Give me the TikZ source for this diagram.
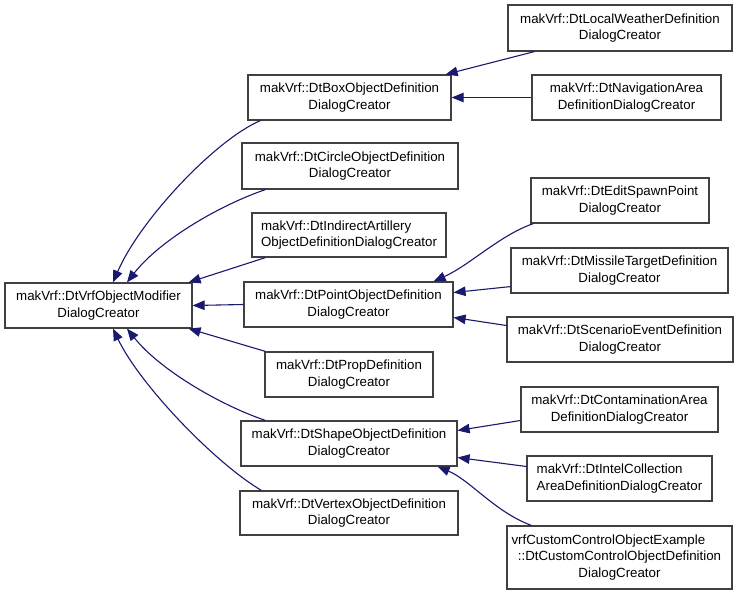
\documentclass[tikz,border=0pt]{standalone}
\usepackage{fontspec}
\setmainfont{Liberation Sans}
\usetikzlibrary{arrows.meta}
\definecolor{edgeblue}{HTML}{191970}
\definecolor{boxgray}{HTML}{404040}
\tikzset{
  classbox/.style={
    draw = boxgray,
    line width = 1.2pt,
    fill = white,
    inner sep = 0pt,
    minimum height = 45pt,
    align = center,
    font = \fontsize{13.3}{16.8}\selectfont
  },
  inherit/.style={
    draw = edgeblue,
    line width = 1.1pt,
    -{Triangle[length=12pt,width=9.5pt]}
  }
}
\begin{document}
\begin{tikzpicture}[x=1pt,y=-1pt]
  \useasboundingbox[fill=white] (0,0) rectangle (739,595);
  % base class
  \node[classbox, minimum width=187pt] (root) at (98.5,305.5) {makVrf::DtVrfObjectModifier\\DialogCreator};
  % first level
  \node[classbox, minimum width=203pt] (box) at (349.5,97.5) {makVrf::DtBoxObjectDefinition\\DialogCreator};
  \node[classbox, minimum width=216pt, minimum height=46pt] (circle) at (350,166) {makVrf::DtCircleObjectDefinition\\DialogCreator};
  \node[classbox, minimum width=194pt, minimum height=44pt, align=left] (indirect) at (349,235) {makVrf::DtIndirectArtillery\\ObjectDefinitionDialogCreator};
  \node[classbox, minimum width=209pt] (point) at (348.5,304.5) {makVrf::DtPointObjectDefinition\\DialogCreator};
  \node[classbox, minimum width=168pt] (prop) at (349,374.5) {makVrf::DtPropDefinition\\DialogCreator};
  \node[classbox, minimum width=216pt] (shape) at (349,443.5) {makVrf::DtShapeObjectDefinition\\DialogCreator};
  \node[classbox, minimum width=218pt, minimum height=44pt] (vertex) at (349,513) {makVrf::DtVertexObjectDefinition\\DialogCreator};
  % second level
  \node[classbox, minimum width=224pt, minimum height=46pt] (weather) at (620,28) {makVrf::DtLocalWeatherDefinition\\DialogCreator};
  \node[classbox, minimum width=189pt] (navarea) at (626.5,97.5) {makVrf::DtNavigationArea\\DefinitionDialogCreator};
  \node[classbox, minimum width=178pt] (spawn) at (620,200.5) {makVrf::DtEditSpawnPoint\\DialogCreator};
  \node[classbox, minimum width=217pt] (missile) at (619.5,270.5) {makVrf::DtMissileTargetDefinition\\DialogCreator};
  \node[classbox, minimum width=226pt] (scenario) at (620,339.5) {makVrf::DtScenarioEventDefinition\\DialogCreator};
  \node[classbox, minimum width=197pt] (contam) at (619.5,409.5) {makVrf::DtContaminationArea\\DefinitionDialogCreator};
  \node[classbox, minimum width=185pt, align=left] (intel) at (619.5,478.5) {makVrf::DtIntelCollection\\AreaDefinitionDialogCreator};
  \node[classbox, minimum width=225pt, minimum height=63pt] (custom) at (619.5,557.5) {vrfCustomControlObjectExample\hphantom{nnn}\\::DtCustomControlObjectDefinition\\DialogCreator};

  % inheritance towards the base class
  \draw[inherit] ([xshift=13pt]box.south west) .. controls (215,140) and (140,220) .. ([xshift=14.5pt]root.north);
  \draw[inherit] ([xshift=24pt]circle.south west) .. controls (220,205) and (160,240) .. ([xshift=28.5pt]root.north);
  \draw[inherit] ([xshift=14pt]indirect.south west) -- ([xshift=-4pt]root.north east);
  \draw[inherit] (point.west) -- (root.east);
  \draw[inherit] ([xshift=1pt]prop.north west) -- ([xshift=-4pt]root.south east);
  \draw[inherit] ([xshift=25pt]shape.north west) .. controls (220,405) and (160,370) .. ([xshift=28.5pt]root.south);
  \draw[inherit] ([xshift=22pt]vertex.north west) .. controls (215,463) and (140,385) .. ([xshift=14.5pt]root.south);

  % second level
  \draw[inherit] ([xshift=27pt]weather.south west) -- ([xshift=-6pt]box.north east);
  \draw[inherit] (navarea.west) -- (box.east);
  \draw[inherit] ([xshift=3pt]spawn.south west) .. controls (500,235) and (470,265) .. ([xshift=-20pt]point.north east);
  \draw[inherit] ([yshift=7pt]missile.south west) -- ([yshift=12pt]point.east);
  \draw[inherit] ([yshift=14pt]scenario.west) -- ([yshift=-13pt]point.east);
  \draw[inherit] ([yshift=-11pt]contam.west) -- ([yshift=13pt]shape.east);
  \draw[inherit] ([yshift=12pt]intel.west) -- ([yshift=-14pt]shape.east);
  \draw[inherit] ([xshift=25pt]custom.north west) .. controls (495,512) and (470,480) .. ([xshift=-20pt]shape.south east);
\end{tikzpicture}
\end{document}
